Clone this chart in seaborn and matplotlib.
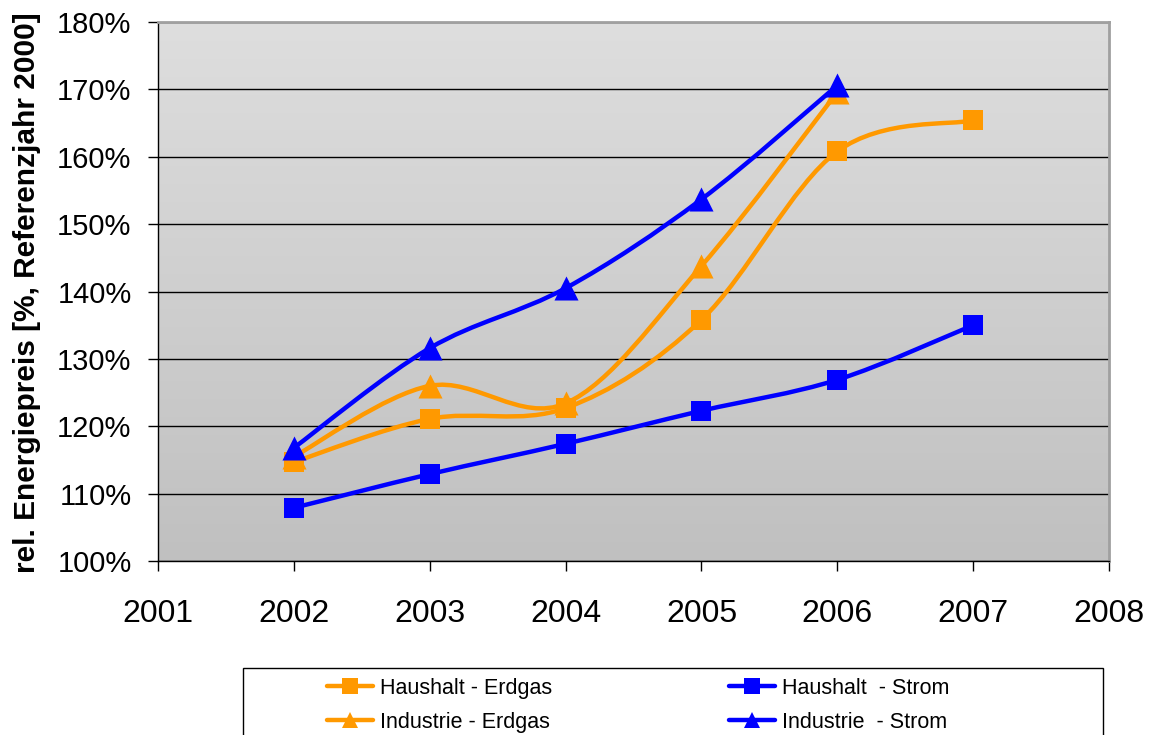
import numpy as np
import matplotlib
matplotlib.use("Agg")
import matplotlib.pyplot as plt
import seaborn as sns
from matplotlib.path import Path
from matplotlib.patches import PathPatch, Rectangle
from matplotlib.lines import Line2D
from matplotlib.colors import LinearSegmentedColormap
from matplotlib.ticker import FuncFormatter

# data (% of reference year 2000)
years = [2002, 2003, 2004, 2005, 2006, 2007]
haushalt_erdgas = [114.7, 121.1, 122.7, 135.8, 160.8, 165.4]
haushalt_strom = [107.9, 112.9, 117.4, 122.3, 126.9, 135.0]
industrie_erdgas = [115.5, 126.0, 123.4, 143.8, 169.6]
industrie_strom = [116.8, 131.6, 140.5, 153.7, 170.6]

x_ticks = [2001, 2002, 2003, 2004, 2005, 2006, 2007, 2008]
y_ticks = [100, 110, 120, 130, 140, 150, 160, 170, 180]

ORANGE = "#ff9900"
BLUE = "#0000ff"

sns.set_style("white")
plt.rcParams["font.family"] = ["Liberation Sans", "DejaVu Sans"]
plt.rcParams["text.color"] = "black"
plt.rcParams["xtick.color"] = "black"
plt.rcParams["ytick.color"] = "black"
plt.rcParams["axes.labelcolor"] = "black"


def smooth_path(x, y):
    # Excel-like smoothed line (Catmull-Rom as cubic Bezier)
    x = np.asarray(x, float)
    y = np.asarray(y, float)
    n = len(x)
    verts = [(x[0], y[0])]
    codes = [Path.MOVETO]
    for i in range(n - 1):
        a = i - 1 if i > 0 else i
        b = i + 2 if i + 2 < n else i + 1
        c1 = (x[i] + (x[i + 1] - x[a]) / 6, y[i] + (y[i + 1] - y[a]) / 6)
        c2 = (x[i + 1] - (x[b] - x[i]) / 6, y[i + 1] - (y[b] - y[i]) / 6)
        verts += [c1, c2, (x[i + 1], y[i + 1])]
        codes += [Path.CURVE4] * 3
    return Path(verts, codes)


fig = plt.figure(figsize=(11.5, 7.35), dpi=100)
ax = fig.add_axes([0.1374, 0.2367, 0.827, 0.7333])

# gradient background of the plot area
cmap = LinearSegmentedColormap.from_list("bg", ["#c0c0c0", "#dedede"])
ax.imshow(np.linspace(0, 1, 256).reshape(-1, 1), extent=[0, 1, 0, 1],
          transform=ax.transAxes, origin="lower", aspect="auto",
          cmap=cmap, zorder=-5)

series = [
    ("Haushalt - Erdgas", years, haushalt_erdgas, ORANGE, "s", 210),
    ("Haushalt  - Strom", years, haushalt_strom, BLUE, "s", 210),
    ("Industrie - Erdgas", years[:5], industrie_erdgas, ORANGE, "^", 300),
    ("Industrie  - Strom", years[:5], industrie_strom, BLUE, "^", 300),
]

for label, xs, ys, col, mk, size in series:
    ax.add_patch(PathPatch(smooth_path(xs, ys), facecolor="none",
                           edgecolor=col, lw=3.2, zorder=3,
                           capstyle="round", joinstyle="round"))
    sns.scatterplot(x=xs, y=ys, marker=mk, s=size, color=col,
                    linewidth=0, ax=ax, zorder=4)

ax.set_xlim(2001, 2008)
ax.set_ylim(100, 180)
ax.set_xticks(x_ticks)
ax.set_yticks(y_ticks)
ax.yaxis.set_major_formatter(FuncFormatter(lambda v, p: f"{v:.0f}%"))
ax.grid(axis="y", color="black", lw=1, zorder=1)
ax.grid(axis="x", visible=False)

ax.tick_params(axis="y", direction="out", length=7, width=1, color="black",
               pad=12, labelsize=21, left=True, labelcolor="black")
ax.tick_params(axis="x", direction="out", length=7, width=1, color="black",
               pad=20, labelsize=23, bottom=True, labelcolor="black")

for side in ["left", "bottom"]:
    ax.spines[side].set_color("black")
    ax.spines[side].set_linewidth(1)
for side in ["top", "right"]:
    ax.spines[side].set_color("#a0a0a0")
    ax.spines[side].set_linewidth(2)

ax.set_ylabel("rel. Energiepreis [%, Referenzjahr 2000]", fontsize=21.5,
              fontweight="bold", color="black")
ax.yaxis.set_label_coords(-0.123, 0.498)

# legend (Excel style box, cut off by the bottom edge)
handles = [Line2D([], [], color=c, lw=3.2, marker=m, markersize=11,
                  markeredgewidth=0) for _, _, _, c, m, _ in series]
labels = [s[0] for s in series]
leg_kw = dict(frameon=False, loc="upper left", fontsize=15.5,
              handlelength=2.15, handletextpad=0.3, labelspacing=0.6,
              borderpad=0, borderaxespad=0, labelcolor="black")
fig.legend([handles[0], handles[2]], [labels[0], labels[2]],
           bbox_to_anchor=(0.2843, 0.078), **leg_kw)
fig.legend([handles[1], handles[3]], [labels[1], labels[3]],
           bbox_to_anchor=(0.634, 0.078), **leg_kw)
fig.patches.append(Rectangle((0.2113, -0.05), 0.7478, 0.1412,
                             transform=fig.transFigure, fill=False,
                             edgecolor="black", lw=1))

fig.savefig("out.png", dpi=100)
